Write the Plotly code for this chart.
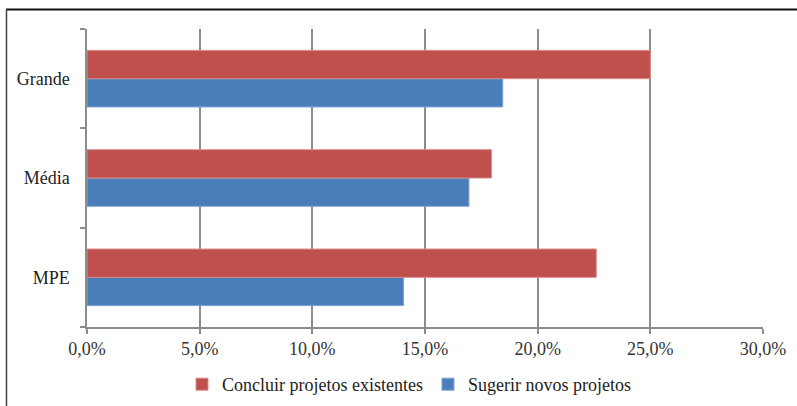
import plotly.graph_objects as go

categories = ["MPE", "Média", "Grande"]
concluir = [22.6, 17.95, 25.0]
sugerir = [14.05, 16.95, 18.45]
tick_vals = [0, 5, 10, 15, 20, 25, 30]
tick_text = ["0,0%", "5,0%", "10,0%", "15,0%", "20,0%", "25,0%", "30,0%"]

fig = go.Figure()
fig.add_trace(go.Bar(y=categories, x=sugerir, orientation="h",
                     name="Sugerir novos projetos", legendrank=2,
                     marker=dict(color="#4A7EBB", line=dict(color="#7FA3D6", width=1))))
fig.add_trace(go.Bar(y=categories, x=concluir, orientation="h",
                     name="Concluir projetos existentes", legendrank=1,
                     marker=dict(color="#C0504D", line=dict(color="#D98A88", width=1))))

L, R, T, B = 87, 34, 29, 79
W, H = 797, 406
pw, ph = W - L - R, H - T - B
def px2x(p): return (p - L) / pw
def py2y(p): return (H - B - p) / ph

SERIF = "Liberation Serif"

fig.update_layout(
    template="none",
    width=W, height=H,
    margin=dict(l=L, r=R, t=T, b=B, autoexpand=False),
    barmode="group", bargap=0.43, bargroupgap=0,
    plot_bgcolor="white", paper_bgcolor="white",
    font=dict(family=SERIF, size=18, color="#333333"),
    showlegend=True,
    legend=dict(orientation="h", x=px2x(409), xanchor="center", y=py2y(366), yanchor="top",
                font=dict(family=SERIF, size=18, color="#222222"), itemwidth=30),
    xaxis=dict(range=[0, 30], tickvals=tick_vals, ticktext=tick_text,
               showgrid=True, gridcolor="#8C8C8C", gridwidth=1.5,
               showline=True, linecolor="#8C8C8C", linewidth=1.5,
               ticks="outside", ticklen=5, tickcolor="#8C8C8C", tickwidth=1.5,
               zeroline=False, fixedrange=True, automargin=False,
               tickfont=dict(family=SERIF, size=18, color="#333333")),
    yaxis=dict(categoryorder="array", categoryarray=categories,
               tickson="boundaries", ticks="outside", ticklen=5,
               tickcolor="#8C8C8C", tickwidth=1.5,
               showline=True, linecolor="#8C8C8C", linewidth=1.5,
               showgrid=False, ticklabelstandoff=12, fixedrange=True, automargin=False,
               tickfont=dict(family=SERIF, size=18, color="#222222")),
    shapes=[
        dict(type="line", xref="paper", yref="paper",
             x0=px2x(6), x1=px2x(800), y0=py2y(9.5), y1=py2y(9.5),
             line=dict(color="#111111", width=2)),
        dict(type="line", xref="paper", yref="paper",
             x0=px2x(6.5), x1=px2x(6.5), y0=py2y(9.5), y1=py2y(410),
             line=dict(color="#444444", width=1.5)),
    ],
)

fig.write_html("out.html", config={"displayModeBar": False},
               post_script="document.body.style.margin='0';document.body.style.overflow='hidden';")
